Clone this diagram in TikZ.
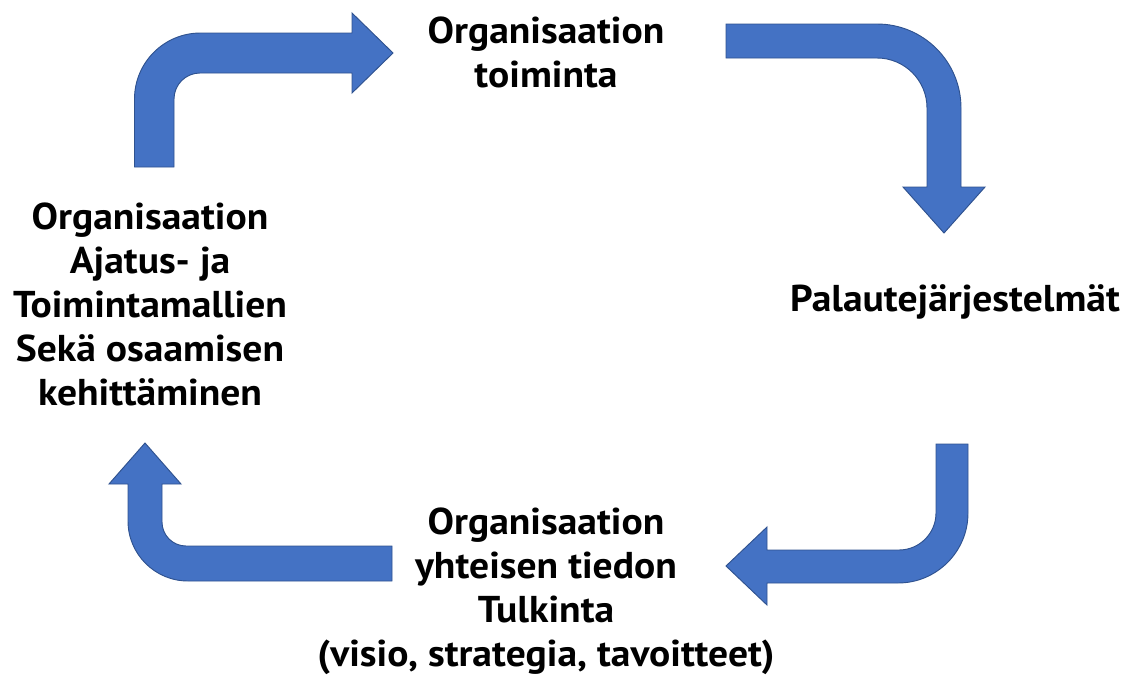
\documentclass[tikz,border=0pt]{standalone}
\usepackage{fontspec}
\setmainfont{PT Sans}[FakeStretch=1.06]
\definecolor{arrowfill}{HTML}{4472C4}
\definecolor{arrowline}{HTML}{2F528F}
\begin{document}
\begin{tikzpicture}[x=0.75pt,y=-0.75pt,
  blockarrow/.style={fill=arrowfill,draw=arrowline,line width=0.7pt,line join=miter},
  label/.style={inner sep=0pt,align=center,font=\bfseries\fontsize{28}{33}\selectfont}]
\useasboundingbox (0,0) rectangle (1124,675);
% arrow 1: up then right
\path[blockarrow] (134.5,167) -- (134.5,99)
  .. controls (134.5,62.55) and (164.05,33) .. (200.5,33)
  -- (352,33) -- (352,13) -- (393,53) -- (352,93) -- (352,73) -- (200,73)
  .. controls (185.64,73) and (174,84.64) .. (174,99) -- (174,167) -- cycle;
% arrow 2: right then down
\path[blockarrow] (726,24) -- (877,24)
  .. controls (923.4,24) and (961,61.6) .. (961,108)
  -- (961,187) -- (985,187) -- (944,233) -- (903,187) -- (927,187) -- (927,108)
  .. controls (927,80.4) and (904.6,58) .. (877,58) -- (726,58) -- cycle;
% arrow 3: down then left
\path[blockarrow] (936,444) -- (968,444) -- (968,513)
  .. controls (968,551.66) and (936.66,583) .. (898,583)
  -- (767,583) -- (767,605) -- (726,566) -- (767,527) -- (767,550) -- (899,550)
  .. controls (919.4,550) and (936,533.4) .. (936,513) -- cycle;
% arrow 4: left then up
\path[blockarrow] (392,546) -- (186,546)
  .. controls (172.75,546) and (162,535.25) .. (162,522)
  -- (162,484) -- (181,484) -- (145,443) -- (109,484) -- (128,484) -- (128,521)
  .. controls (128,554.1) and (154.9,581) .. (188,581) -- (392,581) -- cycle;
% texts
\node[label] (top) at (546,52) {Organisaation\\toiminta};
\node[label] (left) at (150,304) {Organisaation\\Ajatus- ja\\Toimintamallien\\Sekä osaamisen\\kehittäminen};
\node[label] (right) at (955,302) {Palautejärjestelmät};
\node[label] (bottom) at (546,591) {Organisaation\\yhteisen tiedon\\Tulkinta\\(visio, strategia, tavoitteet)};
\end{tikzpicture}
\end{document}
